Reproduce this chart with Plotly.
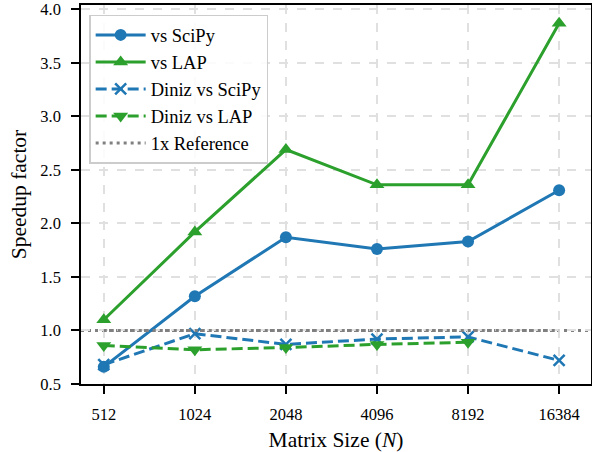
import plotly.graph_objects as go

sizes = ["512", "1024", "2048", "4096", "8192", "16384"]
vs_scipy = [0.66, 1.32, 1.87, 1.76, 1.83, 2.31]
vs_lap = [1.10, 1.92, 2.69, 2.36, 2.36, 3.87]
diniz_vs_scipy = [0.68, 0.97, 0.87, 0.92, 0.94, 0.72]
diniz_vs_lap = [0.86, 0.82, 0.84, 0.87, 0.89]
ref_value = 1.0
y_ticks = [0.5, 1.0, 1.5, 2.0, 2.5, 3.0, 3.5, 4.0]

BLUE = "#1f77b4"
GREEN = "#2ca02c"
FONT = "Times New Roman, Liberation Serif, serif"

fig = go.Figure()
fig.add_trace(go.Scatter(x=sizes, y=vs_scipy, name="vs SciPy", mode="lines+markers",
                         line=dict(color=BLUE, width=3), legendgroup="a",
                         marker=dict(symbol="circle", size=12, color=BLUE)))
fig.add_trace(go.Scatter(x=sizes, y=vs_lap, name="vs LAP", mode="lines+markers",
                         line=dict(color=GREEN, width=3), legendgroup="b",
                         marker=dict(symbol="triangle-up", size=13, color=GREEN)))
fig.add_trace(go.Scatter(x=sizes, y=diniz_vs_scipy, name="Diniz vs SciPy", mode="lines+markers",
                         line=dict(color=BLUE, width=3, dash="11px,5px"), legendgroup="c",
                         marker=dict(symbol="x-thin", size=11, line=dict(color=BLUE, width=2.5), color=BLUE)))
fig.add_trace(go.Scatter(x=sizes[:len(diniz_vs_lap)], y=diniz_vs_lap, name="Diniz vs LAP", mode="lines+markers",
                         line=dict(color=GREEN, width=3, dash="11px,5px"), legendgroup="d",
                         marker=dict(symbol="triangle-down", size=13, color=GREEN)))
fig.add_trace(go.Scatter(x=[sizes[0], sizes[-1]], y=[ref_value, ref_value], name="1x Reference",
                         mode="lines", legendgroup="e",
                         line=dict(color="#808080", width=3, dash="3px,4px")))
fig.add_shape(type="line", xref="paper", x0=0, x1=1, yref="y", y0=ref_value, y1=ref_value,
              line=dict(color="#808080", width=3, dash="3px,4px"), layer="below")

fig.update_layout(
    template="none",
    width=592, height=452,
    margin=dict(l=81, r=1, t=5, b=68),
    paper_bgcolor="white", plot_bgcolor="white",
    font=dict(family=FONT, size=16.5, color="black"),
    showlegend=True,
    legend=dict(x=0.016, y=0.974, xanchor="left", yanchor="top",
                bgcolor="rgba(255,255,255,0.85)", bordercolor="#cccccc", borderwidth=1.5,
                font=dict(family=FONT, size=18.5, color="black"), tracegroupgap=0, itemwidth=50),
)
fig.update_xaxes(type="category", range=[-0.25, 5.35],
                 title=dict(text="Matrix Size (<i>N</i>)", font=dict(family=FONT, size=21.5, color="black"), standoff=9),
                 showline=True, linecolor="black", linewidth=1.5, mirror=True,
                 ticks="outside", ticklen=8, tickwidth=1.5, tickcolor="black",
                 ticklabelstandoff=6,
                 showgrid=True, gridcolor="#e0e0e0", griddash="dash", gridwidth=1.5,
                 tickfont=dict(family=FONT, size=16.5, color="black"), zeroline=False)
fig.update_yaxes(range=[0.5, 4.04], tickvals=y_ticks, ticktext=[f"{v:.1f}" for v in y_ticks],
                 title=dict(text="Speedup factor", font=dict(family=FONT, size=21.5, color="black"), standoff=8),
                 showline=True, linecolor="black", linewidth=1.5, mirror=True,
                 ticks="outside", ticklen=8, tickwidth=1.5, tickcolor="black",
                 ticklabelstandoff=7,
                 showgrid=True, gridcolor="#e0e0e0", griddash="dash", gridwidth=1.5,
                 tickfont=dict(family=FONT, size=16.5, color="black"), zeroline=False)

fig.write_html("out.html")
